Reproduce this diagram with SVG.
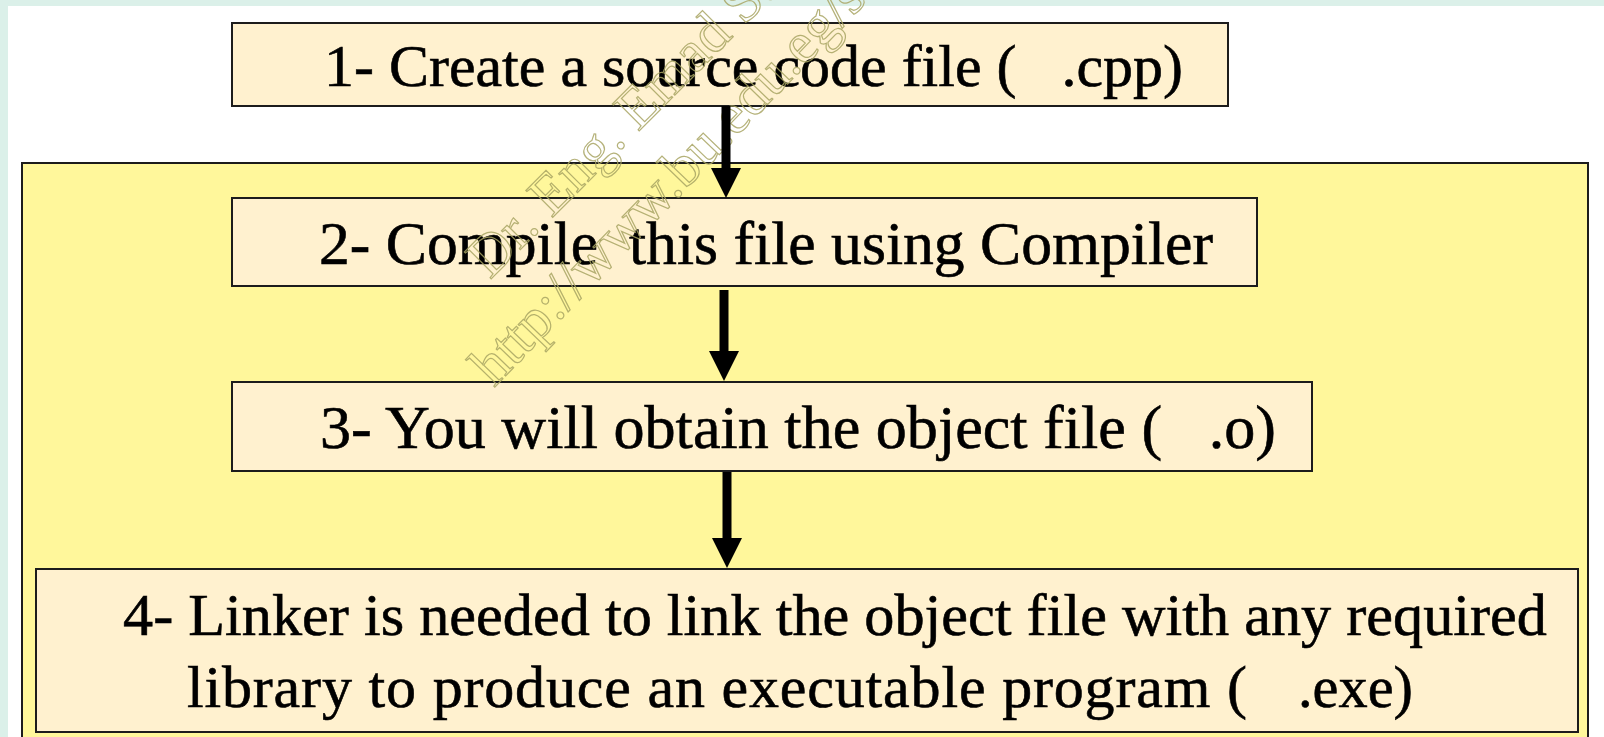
<svg xmlns="http://www.w3.org/2000/svg" width="1604" height="737" viewBox="0 0 1604 737">
  <style>
    .step { fill: #fff1cf; stroke: #1c1c1c; stroke-width: 2; }
    .label { font-family: 'Liberation Serif', 'Times New Roman', serif; fill: #000; stroke: #000; stroke-width: 0.6; white-space: pre; }
    .wm { font-family: 'Liberation Serif', 'Times New Roman', serif; font-size: 58px; fill: none; stroke: #a8a463; stroke-width: 1.2; stroke-opacity: 0.85; white-space: pre; }
    .flow { stroke: #000; stroke-width: 9; fill: none; }
  </style>
  <defs>
    <marker id="head" viewBox="0 0 30 30" refX="1" refY="15" markerWidth="30" markerHeight="30" markerUnits="userSpaceOnUse" orient="auto">
      <path d="M0,0 L30,15 L0,30 Z" fill="#000"/>
    </marker>
  </defs>

  <!-- page -->
  <rect x="0" y="0" width="1604" height="737" fill="#dbf0e9"/>
  <rect x="8" y="6" width="1596" height="731" fill="#ffffff"/>

  <!-- build stage container -->
  <g id="build-stage">
    <rect x="22" y="163" width="1566" height="590" fill="#fff79b" stroke="#1c1c1c" stroke-width="2"/>
  </g>

  <g id="step-1">
    <rect class="step" x="232" y="23" width="996" height="83"/>
    <text class="label" x="324" y="86" font-size="60" textLength="859" lengthAdjust="spacingAndGlyphs" xml:space="preserve">1- Create a source code file (   .cpp)</text>
  </g>

  <g id="step-2">
    <rect class="step" x="232" y="198" width="1025" height="88"/>
    <text class="label" x="319" y="264" font-size="62" textLength="894" lengthAdjust="spacingAndGlyphs" xml:space="preserve">2- Compile  this file using Compiler</text>
  </g>

  <g id="step-3">
    <rect class="step" x="232" y="382" width="1080" height="89"/>
    <text class="label" x="320" y="448" font-size="62" textLength="956" lengthAdjust="spacingAndGlyphs" xml:space="preserve">3- You will obtain the object file (   .o)</text>
  </g>

  <g id="step-4">
    <rect class="step" x="36" y="569" width="1542" height="163"/>
    <text class="label" x="123" y="635" font-size="60" textLength="1424" lengthAdjust="spacingAndGlyphs" xml:space="preserve">4- Linker is needed to link the object file with any required</text>
    <text class="label" x="187" y="707" font-size="60" textLength="1060" lengthAdjust="spacing" xml:space="preserve">library to produce an executable program (</text>
    <text class="label" x="1298" y="707" font-size="60" textLength="115" lengthAdjust="spacingAndGlyphs">.exe)</text>
  </g>

  <!-- watermark -->
  <g id="watermark">
    <text class="wm" transform="translate(490,280) rotate(-45)">Dr. Eng. Emad S.</text>
    <text class="wm" transform="translate(494,388) rotate(-46)">http://www.bu.edu.eg/st</text>
  </g>

  <g id="connectors">
    <line class="flow" x1="726" y1="106" x2="726" y2="169" marker-end="url(#head)"/>
    <line class="flow" x1="724" y1="290" x2="724" y2="352" marker-end="url(#head)"/>
    <line class="flow" x1="727" y1="472" x2="727" y2="539" marker-end="url(#head)"/>
  </g>
</svg>
